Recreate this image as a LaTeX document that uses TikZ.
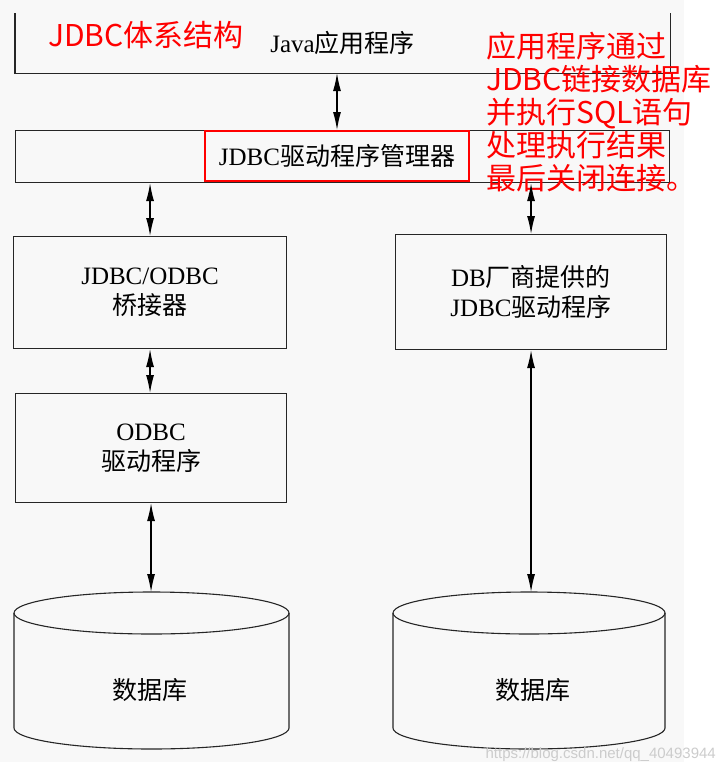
\documentclass[tikz,border=0pt]{standalone}
\usepackage{fontspec}
\setmainfont{Liberation Serif}
\newfontfamily\cjk{Noto Sans CJK SC}
\newfontfamily\wmfont{Liberation Sans}
\usetikzlibrary{arrows.meta}
\definecolor{bg}{HTML}{F8F8F8}
\begin{document}
\begin{tikzpicture}[x=1pt,y=-1pt,
  box/.style={rectangle,draw=black!85,line width=1.1pt,inner sep=0pt,anchor=north west,align=center,font=\fontsize{25}{30}\selectfont},
  arr/.style={{Latex[length=18pt,width=8pt]}-{Latex[length=18pt,width=8pt]},line width=1.2pt},
  redtxt/.style={text=red,font=\cjk\fontsize{30}{33}\selectfont,inner sep=0pt},
  outline/.style={line width=1.1pt,draw=black!85}]
\useasboundingbox (0,0) rectangle (717,774);
\fill[bg] (0,0) rectangle (684,762);
% top open box
\node[box,draw=none,minimum width=654pt,minimum height=59pt] (java) at (15,13) {Java{\cjk 应用程序}};
\draw[outline] (java.north west) -- (java.south west) -- (java.south east) -- (java.north east);
% manager
\node[box,minimum width=654pt,minimum height=52pt] (mgr) at (15,130) {};
\node[draw=red,line width=1.6pt,minimum width=264pt,minimum height=50pt,inner sep=0pt,font=\fontsize{25}{30}\selectfont] (mgrlabel) at (337,156) {JDBC{\cjk 驱动程序管理器}};
% red notes
\node[redtxt,anchor=west] (title) at (48,35) {JDBC体系结构};
\node[redtxt,anchor=north west,align=left] (note) at (486,32) {应用程序通过\\JDBC链接数据库\\并执行SQL语句\\处理执行结果\\最后关闭连接。};
% boxes
\node[box,minimum width=273pt,minimum height=112pt] (bridge) at (13,236) {JDBC/ODBC\\{\cjk 桥接器}};
\node[box,minimum width=271pt,minimum height=115pt] (vendor) at (395,234) {DB{\cjk 厂商提供的}\\JDBC{\cjk 驱动程序}};
\node[box,minimum width=271pt,minimum height=109pt] (odbc) at (15,393) {ODBC\\{\cjk 驱动程序}};
% cylinders
\draw[outline] (151.5,613) ellipse[x radius=137.5,y radius=21];
\draw[outline] (14,613) -- (14,728) arc[start angle=180,end angle=0,x radius=137.5,y radius=21] -- (289,613);
\draw[outline] (529,613) ellipse[x radius=136,y radius=21];
\draw[outline] (393,613) -- (393,728) arc[start angle=180,end angle=0,x radius=136,y radius=21] -- (665,613);
\coordinate (dbLtop) at (151.5,592);
\coordinate (dbRtop) at (529,592);
\node[font=\cjk\fontsize{25}{30}\selectfont,inner sep=0pt] (dbL) at (150,690) {数据库};
\node[font=\cjk\fontsize{25}{30}\selectfont,inner sep=0pt] (dbR) at (533,690) {数据库};
% arrows
\draw[arr] (java.south -| mgrlabel.center) -- (mgr.north -| mgrlabel.center);
\draw[arr] (mgr.south -| bridge.center) -- (bridge.north);
\draw[arr] (mgr.south -| vendor.center) -- (vendor.north);
\draw[arr] (bridge.south) -- (bridge.south |- odbc.north);
\draw[arr] (odbc.south) -- (odbc.south |- dbLtop);
\draw[arr] (vendor.south) -- (vendor.south |- dbRtop);
% watermark
\node[text=black!20,font=\wmfont\fontsize{15}{15}\selectfont,anchor=east,inner sep=0pt] (wm) at (716,755) {https://blog.csdn.net/qq\_40493944};
\end{tikzpicture}
\end{document}
